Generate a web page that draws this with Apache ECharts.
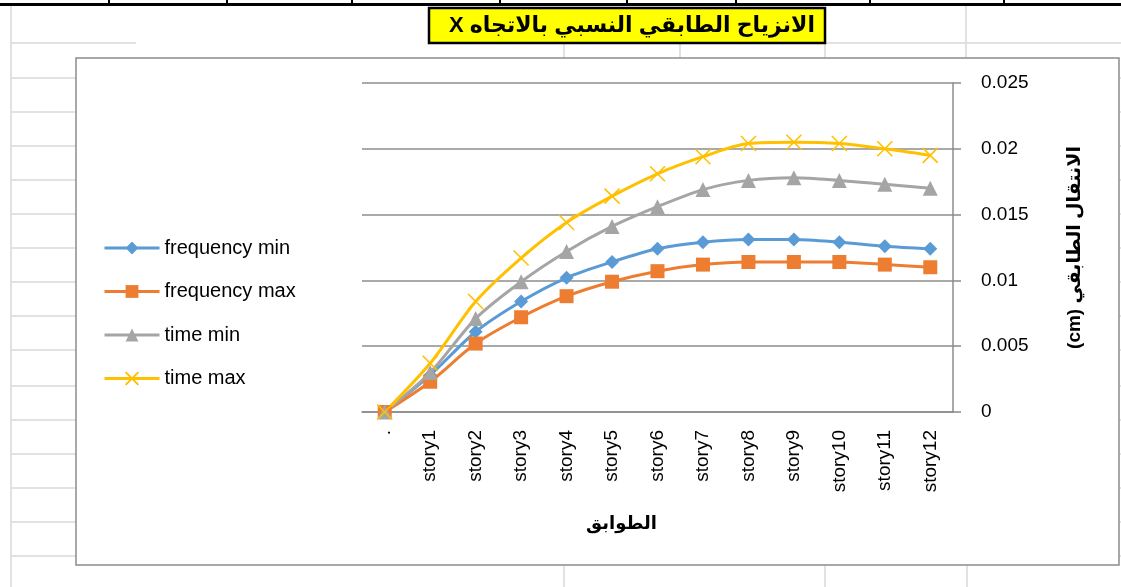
<!DOCTYPE html>
<html>
<head>
<meta charset="utf-8">
<script src="https://cdn.jsdelivr.net/npm/echarts@6/dist/echarts.min.js"></script>
<style>
html,body{margin:0;padding:0;background:#fff;}
#chart{width:1121px;height:587px;}
</style>
</head>
<body>
<div id="chart"></div>
<script>
const categories = ['.', 'story1', 'story2', 'story3', 'story4', 'story5', 'story6', 'story7', 'story8', 'story9', 'story10', 'story11', 'story12'];
const frequencyMin = [0, 0.0028, 0.0061, 0.0084, 0.0102, 0.0114, 0.0124, 0.0129, 0.0131, 0.0131, 0.0129, 0.0126, 0.0124];
const frequencyMax = [0, 0.0023, 0.0052, 0.0072, 0.0088, 0.0099, 0.0107, 0.0112, 0.0114, 0.0114, 0.0114, 0.0112, 0.0110];
const timeMin = [0, 0.0030, 0.0071, 0.0099, 0.0122, 0.0141, 0.0156, 0.0169, 0.0176, 0.0178, 0.0176, 0.0173, 0.0170];
const timeMax = [0, 0.0037, 0.0084, 0.0117, 0.0144, 0.0164, 0.0181, 0.0194, 0.0204, 0.0205, 0.0204, 0.0200, 0.0195];
const seriesNames = ['frequency min', 'frequency max', 'time min', 'time max'];
const titleText = '\u202Bالانزياح الطابقي النسبي بالاتجاه X\u202C';
const xAxisName = 'الطوابق';
const yAxisName = '\u202Bالانتقال الطابقي (cm)\u202C';

const chart = echarts.init(document.getElementById('chart'), null, {renderer: 'canvas'});

const light = '#d9d9d9';
const bg = [];
function hl(x1, x2, y, color, w) {
  bg.push({type: 'line', z: -5, silent: true, shape: {x1: x1, y1: y, x2: x2, y2: y}, style: {stroke: color || light, lineWidth: w || 1.5}});
}
function vl(x, y1, y2, color, w) {
  bg.push({type: 'line', z: -5, silent: true, shape: {x1: x, y1: y1, x2: x, y2: y2}, style: {stroke: color || light, lineWidth: w || 1.5}});
}
// spreadsheet cell grid
vl(11, 6, 587);
[78, 112, 146, 180, 214, 248, 282, 316, 350, 386, 420, 454, 488, 522, 556].forEach(function (y) { hl(11, 76, y); hl(1119, 1121, y); });
hl(11, 136, 43);
hl(825, 1121, 43);
vl(966, 6, 58);
[564, 680, 825].forEach(function (x) { vl(x, 43, 58); });
[564, 825, 967].forEach(function (x) { vl(x, 565, 587); });
// top black border row
hl(0, 1121, 4.5, '#000', 3);
[109, 227, 352, 500, 627, 736, 870, 1004].forEach(function (x) { vl(x, 0, 4, '#000', 2); });
// chart frame
bg.push({type: 'rect', z: -4, silent: true, shape: {x: 76, y: 58, width: 1043, height: 507}, style: {fill: '#fff', stroke: '#8c8c8c', lineWidth: 1.5}});
// title box
bg.push({type: 'rect', z: -3, silent: true, shape: {x: 429, y: 8, width: 396, height: 35}, style: {fill: '#ffff00', stroke: '#000', lineWidth: 2.5}});

const xPath = 'path://M0,0 L10,10 M10,0 L0,10';

function mkSeries(name, data, color, symbol, size, extra) {
  return Object.assign({
    name: name,
    type: 'line',
    data: data,
    smooth: 0.3,
    symbol: symbol,
    symbolSize: size,
    lineStyle: {color: color, width: 3},
    itemStyle: {color: color},
    emphasis: {disabled: true},
    z: 2
  }, extra || {});
}

const option = {
  animation: false,
  backgroundColor: '#fff',
  title: {
    text: titleText,
    left: 627,
    top: 10,
    textAlign: 'center',
    textStyle: {fontFamily: 'Arial, "DejaVu Sans", sans-serif', fontWeight: 'bold', fontSize: 22, color: '#000'}
  },
  graphic: bg,
  legend: {
    orient: 'vertical',
    left: 103,
    top: 238,
    padding: 0,
    itemWidth: 55,
    itemHeight: 16,
    itemGap: 23.5,
    data: seriesNames,
    lineStyle: {width: 3},
    textStyle: {fontFamily: 'Arial, "Liberation Sans", sans-serif', fontSize: 20, color: '#000'}
  },
  grid: {left: 362, right: 168, top: 83, bottom: 175, containLabel: false},
  xAxis: {
    type: 'category',
    data: categories,
    boundaryGap: true,
    name: xAxisName,
    nameLocation: 'middle',
    nameGap: 103,
    nameTextStyle: {fontFamily: 'Arial, "DejaVu Sans", sans-serif', fontWeight: 'bold', fontSize: 18, color: '#000', padding: [0, 72, 0, 0]},
    axisLine: {lineStyle: {color: '#8c8c8c', width: 1.5}},
    axisTick: {length: 7, lineStyle: {color: '#8c8c8c', width: 1.5}},
    axisLabel: {rotate: 90, interval: 0, margin: 18, fontFamily: 'Arial, "Liberation Sans", sans-serif', fontSize: 19, color: '#000'},
    splitLine: {show: false}
  },
  yAxis: {
    type: 'value',
    position: 'right',
    min: 0,
    max: 0.025,
    interval: 0.005,
    name: yAxisName,
    nameLocation: 'middle',
    nameRotate: 90,
    nameGap: 112,
    nameTextStyle: {fontFamily: 'Arial, "DejaVu Sans", sans-serif', fontWeight: 'bold', fontSize: 19, color: '#000'},
    axisLine: {show: true, lineStyle: {color: '#8c8c8c', width: 1.5}},
    axisTick: {show: true, length: 8, lineStyle: {color: '#8c8c8c', width: 1.5}},
    axisLabel: {margin: 28, fontFamily: 'Arial, "Liberation Sans", sans-serif', fontSize: 19, color: '#000', formatter: function (v) { return String(+v.toFixed(3)); }},
    splitLine: {show: true, lineStyle: {color: '#8c8c8c', width: 1.5}}
  },
  series: [
    mkSeries(seriesNames[0], frequencyMin, '#5B9BD5', 'diamond', 14),
    mkSeries(seriesNames[1], frequencyMax, '#ED7D31', 'rect', 14),
    mkSeries(seriesNames[2], timeMin, '#A5A5A5', 'triangle', 15),
    mkSeries(seriesNames[3], timeMax, '#FFC000', xPath, 15, {itemStyle: {color: '#FFC000', borderColor: '#FFC000', borderWidth: 1.6}})
  ]
};
chart.setOption(option);
</script>
</body>
</html>
